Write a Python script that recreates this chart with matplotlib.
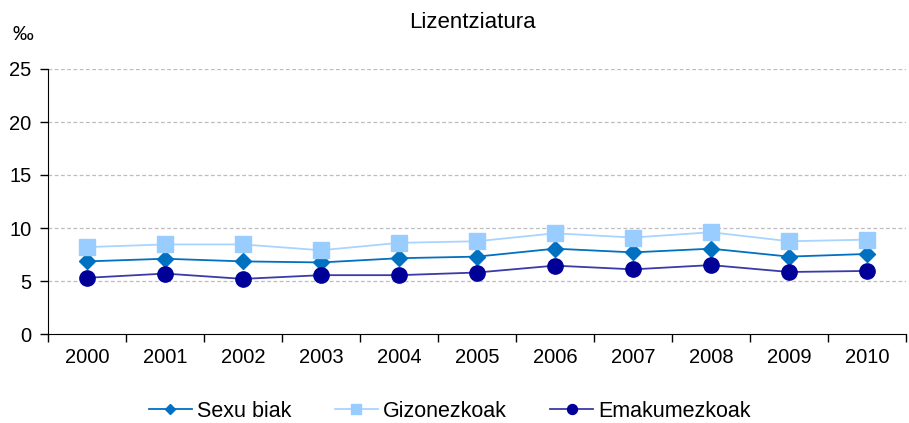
import matplotlib.pyplot as plt
import numpy as np

plt.rcParams['font.family'] = ['Liberation Sans', 'DejaVu Sans']

# Data (per mil)
years = ['2000', '2001', '2002', '2003', '2004', '2005', '2006', '2007', '2008', '2009', '2010']
sexu_biak = [6.85, 7.1, 6.85, 6.75, 7.15, 7.3, 8.05, 7.7, 8.05, 7.3, 7.55]
gizonezkoak = [8.2, 8.45, 8.45, 7.9, 8.6, 8.75, 9.5, 9.1, 9.6, 8.75, 8.9]
emakumezkoak = [5.3, 5.7, 5.2, 5.55, 5.55, 5.8, 6.45, 6.1, 6.5, 5.85, 5.95]

fig = plt.figure(figsize=(9.09, 4.23), dpi=100)
ax = fig.add_axes([48 / 909, 1 - 334 / 423, 858 / 909, 265 / 423])

x = np.arange(len(years))
ax.plot(x, sexu_biak, color='#0070C0', lw=1.3, marker='D', ms=8,
        mec='#0070C0', mfc='#0070C0', label='Sexu biak', zorder=3)
ax.plot(x, gizonezkoak, color='#A8D4FF', lw=1.3, marker='s', ms=11,
        mec='#99CCFF', mfc='#99CCFF', label='Gizonezkoak', zorder=3)
ax.plot(x, emakumezkoak, color='#3A3AA8', lw=1.3, marker='o', ms=11,
        mec='#000099', mfc='#000099', label='Emakumezkoak', zorder=3)

ax.set_xlim(-0.5, len(years) - 0.5)
ax.set_ylim(0, 25)
ax.set_yticks([0, 5, 10, 15, 20, 25])
ax.set_xticks(x)
ax.set_xticklabels(years)
ax.set_xticks(np.arange(-0.5, len(years), 1), minor=True)
ax.tick_params(axis='x', which='major', length=0, pad=10, labelsize=14.5)
ax.tick_params(axis='x', which='minor', length=6, direction='out', width=1)
ax.tick_params(axis='y', length=6, direction='out', width=1, labelsize=14.5, pad=6)

for v in [5, 10, 15, 20, 25]:
    ax.axhline(v, color='#BDBDBD', lw=0.9, ls=(0, (3, 2)), zorder=1)

ax.spines['top'].set_visible(False)
ax.spines['right'].set_visible(False)
ax.spines['left'].set_color('black')
ax.spines['bottom'].set_color('black')

fig.text(472 / 909, 1 - 22 / 423, 'Lizentziatura', ha='center', va='center', fontsize=16)
fig.text(23 / 909, 1 - 35 / 423, '‰', ha='center', va='center', fontsize=15)

fig.legend(loc='center', bbox_to_anchor=(450 / 909, 1 - 411 / 423), ncol=3, frameon=False,
           fontsize=15.5, handlelength=2.0, columnspacing=2.0, handletextpad=0.25,
           markerscale=0.65)

fig.savefig('out.png', dpi=100)
